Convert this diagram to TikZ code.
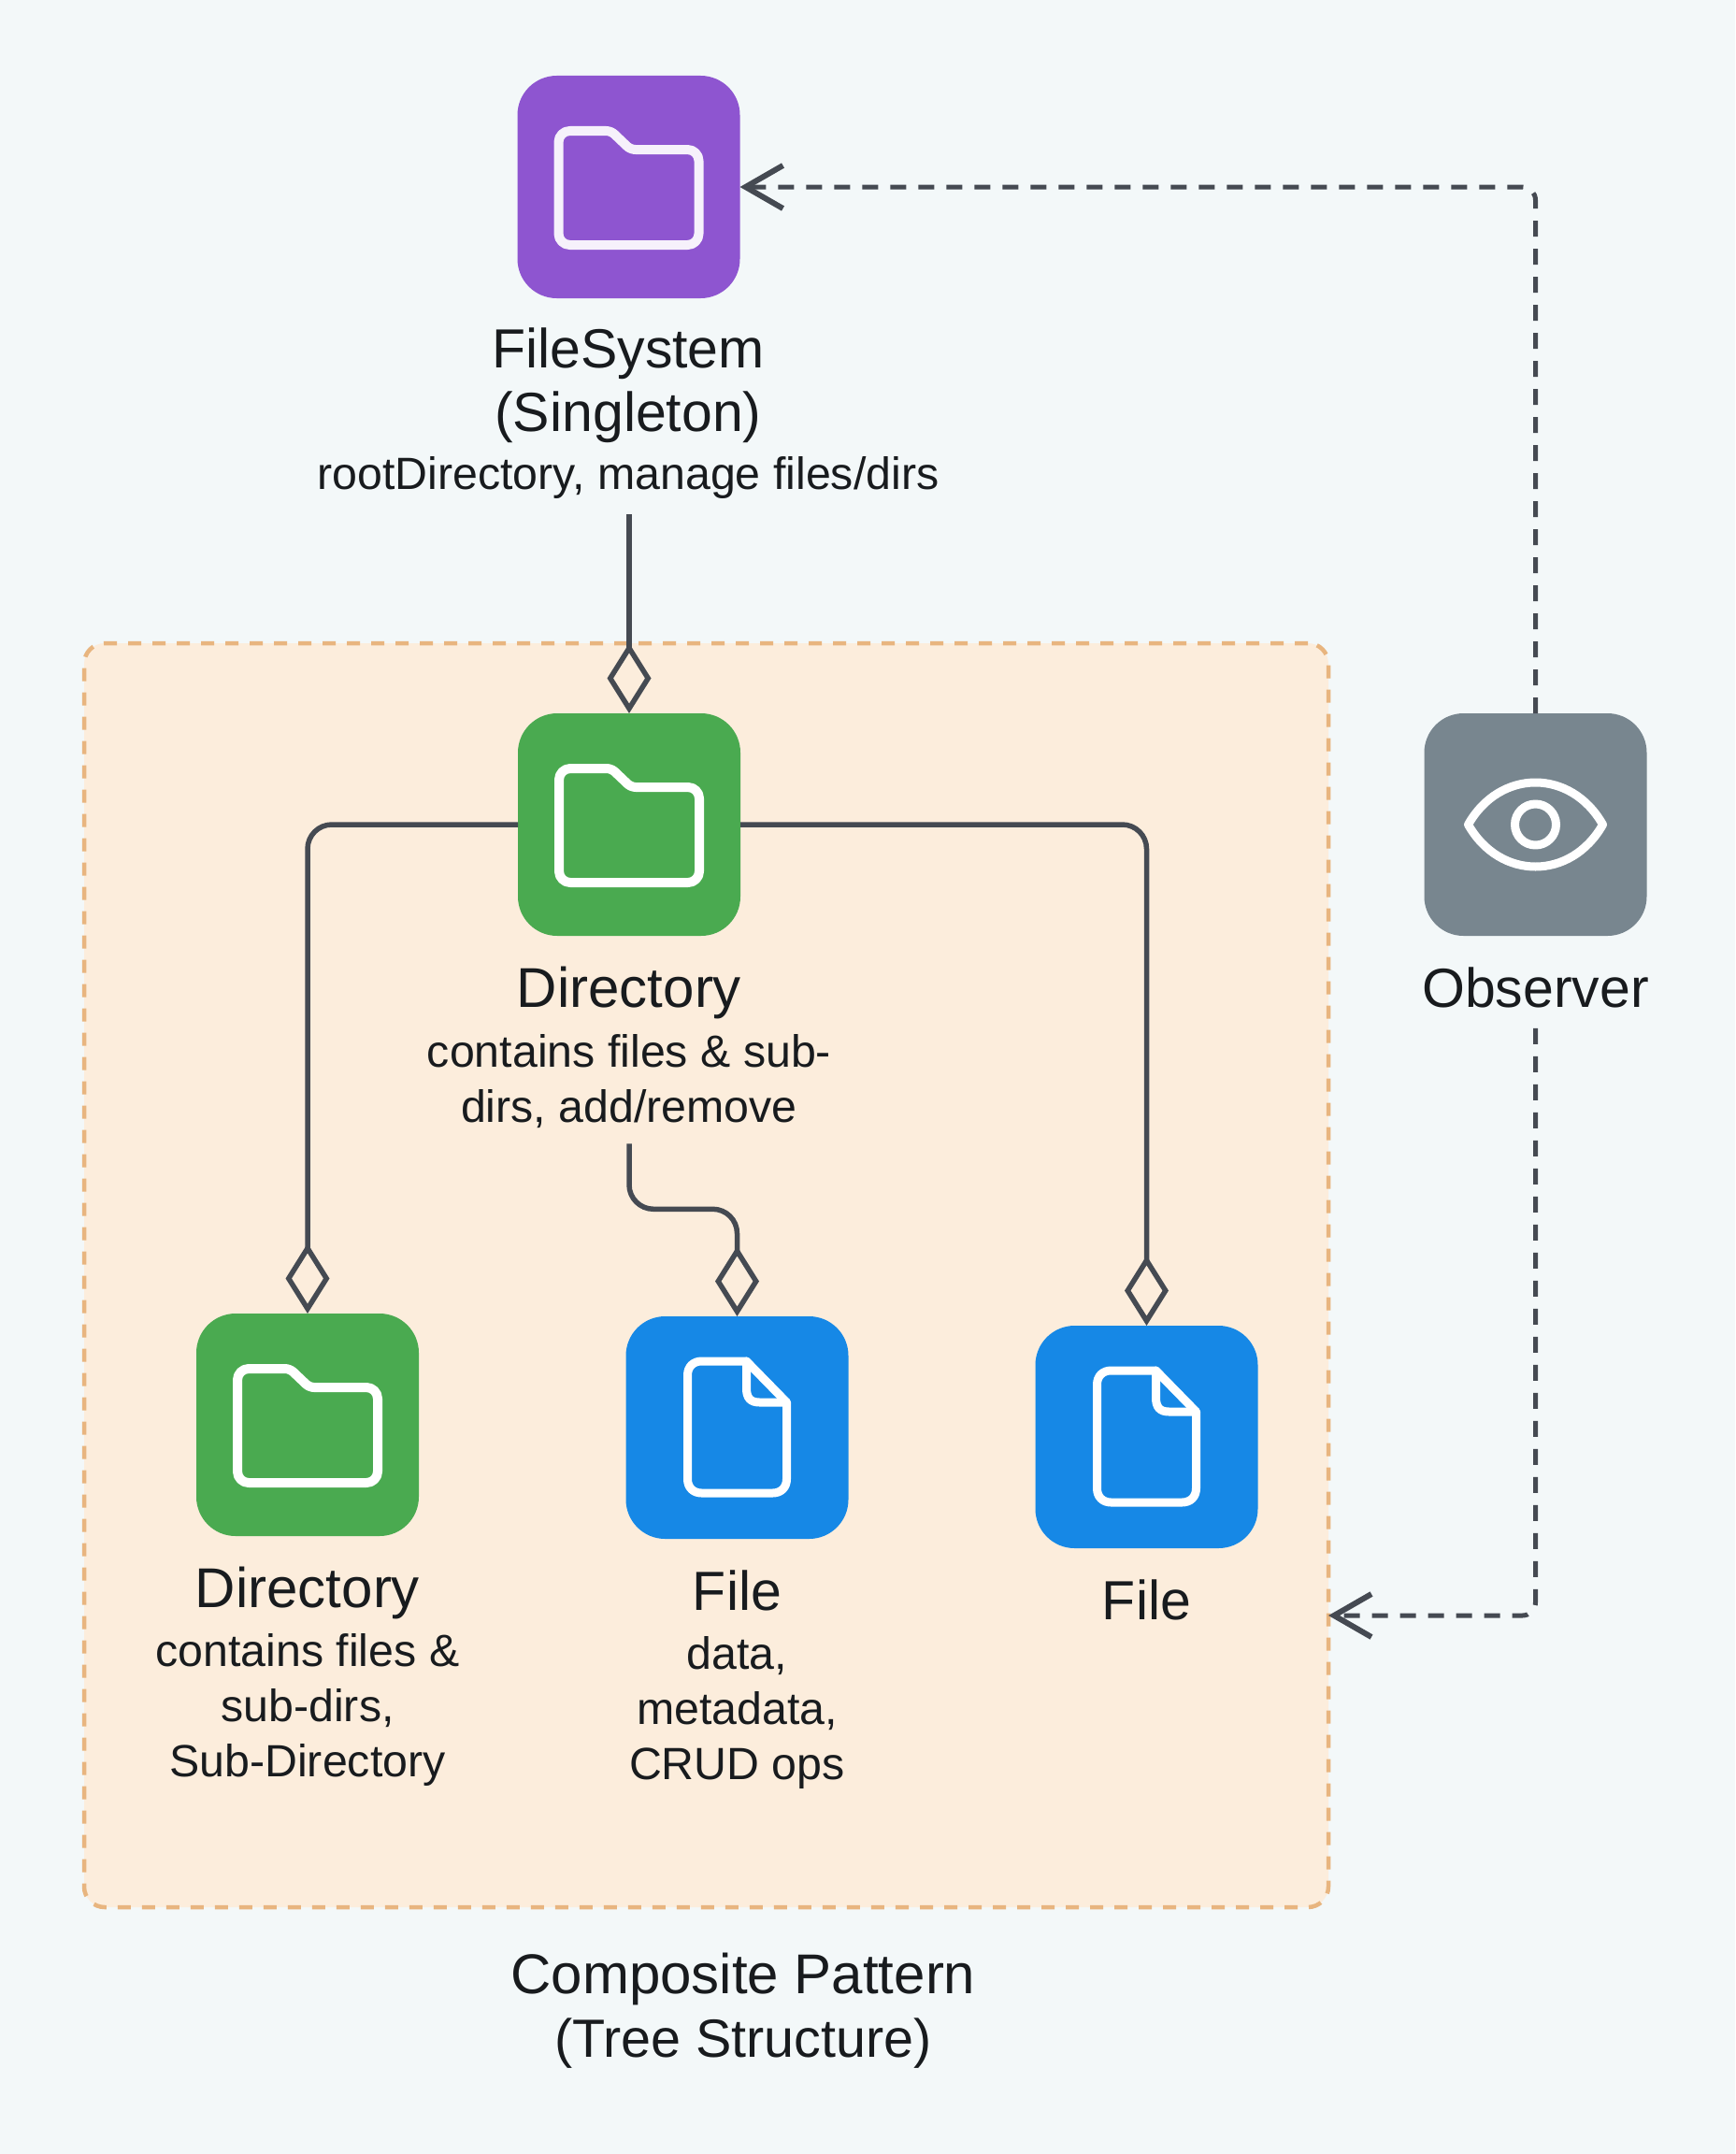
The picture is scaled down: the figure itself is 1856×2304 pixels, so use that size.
\documentclass[tikz,border=0pt]{standalone}
\usepackage{fontspec}
\setmainfont{Liberation Sans}
\usetikzlibrary{arrows.meta}
\definecolor{pagebg}{HTML}{F3F8F9}
\definecolor{panelbg}{HTML}{FCEDDC}
\definecolor{paneledge}{HTML}{E8B57F}
\definecolor{cpurple}{HTML}{8E55D0}
\definecolor{cgreen}{HTML}{4AAA50}
\definecolor{cblue}{HTML}{1688E6}
\definecolor{cgrey}{HTML}{78868F}
\definecolor{wire}{HTML}{454A52}
\definecolor{inktext}{HTML}{181B1E}
\tikzset{
  x=1pt,y=-1pt,
  iconbox/.style={rectangle,rounded corners=42pt,minimum width=238pt,minimum height=238pt,inner sep=0pt,outer sep=0pt},
  glyph/.style={draw=#1,line width=10pt,line join=round,line cap=round,fill=none},
  glyph/.default=white,
  titletext/.style={align=center,text=inktext,inner xsep=0pt,inner ysep=22pt,font=\fontsize{59}{68}\selectfont},
  bigtitle/.style={titletext,font=\fontsize{60}{68}\selectfont},
  desctext/.style={align=center,text=inktext,inner xsep=0pt,inner ysep=16pt,font=\fontsize{48.3}{59}\selectfont},
  conn/.style={draw=wire,line width=5.5pt,line join=round},
  hasdiamond/.style={-{Diamond[length=75pt,width=47pt,line width=5.5pt,fill=panelbg]}},
  watch/.style={draw=wire,line width=5pt,dash pattern=on 17pt off 13pt,rounded corners=14pt,
     -{Straight Barb[length=40pt,width=46pt,line width=6pt]}},
  folderpic/.pic={
    \draw[glyph=#1,rounded corners=12pt] (-75,0) -- (-75,-60) [rounded corners=5pt] -- (-19,-60) -- (2,-40) [rounded corners=12pt] -- (75,-40) -- (75,62) -- (-75,62) -- cycle;
  },
  folderpic/.default=white,
  filepic/.pic={
    \draw[glyph,line width=9pt] (10,-71) -- (-38,-71) .. controls (-47,-71) and (-53,-65) .. (-53,-56) -- (-53,55) .. controls (-53,64) and (-47,70) .. (-38,70) -- (38,70) .. controls (47,70) and (53,64) .. (53,55) -- (53,-27) -- cycle;
    \draw[glyph,line width=9pt] (10,-71) -- (10,-42) .. controls (10,-32) and (14,-27) .. (24,-27) -- (53,-27);
  },
  eyepic/.pic={
    \draw[glyph,line width=9pt] (-72,0) .. controls (-38,-60) and (38,-60) .. (72,0) .. controls (38,60) and (-38,60) .. (-72,0) -- cycle;
    \draw[glyph,line width=9pt] (0,0) circle (22);
  }
}
\begin{document}
\begin{tikzpicture}
\useasboundingbox (0,0) rectangle (1856,2304);
\fill[pagebg] (0,0) rectangle (1856,2304);
% panel
\node[rectangle,rounded corners=22pt,fill=panelbg,draw=paneledge,line width=4.5pt,dash pattern=on 14pt off 12pt,
      minimum width=1331pt,minimum height=1352pt,inner sep=0pt,outer sep=0pt] (panel) at (755.5,1364) {};
% icons
\node[iconbox,fill=cpurple] (fs) at (672.5,200) {};
\node[iconbox,fill=cgreen] (dir) at (673,882) {};
\node[iconbox,fill=cgreen] (subdir) at (329,1524) {};
\node[iconbox,fill=cblue] (file) at (788.5,1527) {};
\node[iconbox,fill=cblue] (fileb) at (1226.5,1537) {};
\node[iconbox,fill=cgrey] (obs) at (1642.5,882) {};
\pic at (fs) {folderpic={white!92!cpurple}};
\pic at (dir) {folderpic};
\pic at (subdir) {folderpic};
\pic at (file) {filepic};
\pic at (fileb) {filepic};
\pic at (obs) {eyepic};
% labels
\node[titletext] (fstitle) at (672,412) {FileSystem\\(Singleton)};
\node[desctext] (fsdesc) at (672,511.5) {rootDirectory, manage files/dirs};
\node[bigtitle] (dirtitle) at (673,1062) {Directory};
\node[desctext] (dirdesc) at (673,1157) {contains files \& sub-\\dirs, add/remove};
\node[bigtitle] (subtitle) at (329,1704) {Directory};
\node[desctext] (subdesc) at (329,1829) {contains files \&\\sub-dirs,\\Sub-Directory};
\node[titletext] (filetitle) at (788.5,1701) {File};
\node[desctext] (filedesc) at (788.5,1831.5) {data,\\metadata,\\CRUD ops};
\node[titletext] (filebtitle) at (1226.5,1711) {File};
\node[titletext] (obstitle) at (1642.5,1056) {Observer};
\node[bigtitle] (comptitle) at (795,2150.5) {Composite Pattern\\{\fontsize{57.5}{68}\selectfont (Tree Structure)}};
% aid coordinates
\coordinate (panelhit) at (1421,1728);
% connectors
\draw[conn,hasdiamond] (fsdesc.south -| dir.north) -- (dir.north);
\draw[conn,hasdiamond,rounded corners=26pt] (dir.west) -- (dir.west -| subdir.north) -- (subdir.north);
\draw[conn,hasdiamond,rounded corners=26pt] (dir.east) -- (dir.east -| fileb.north) -- (fileb.north);
\draw[conn,hasdiamond,rounded corners=26pt] (dirdesc.south) -- ([yshift=-70pt]dirdesc.south) -- ([yshift=-70pt]dirdesc.south -| file.north) -- (file.north);
\draw[watch] (obs.north) -- (obs.north |- fs.east) -- (fs.east);
\draw[watch] (obstitle.south) -- (obstitle.south |- panelhit) -- (panelhit);
\end{tikzpicture}
\end{document}
